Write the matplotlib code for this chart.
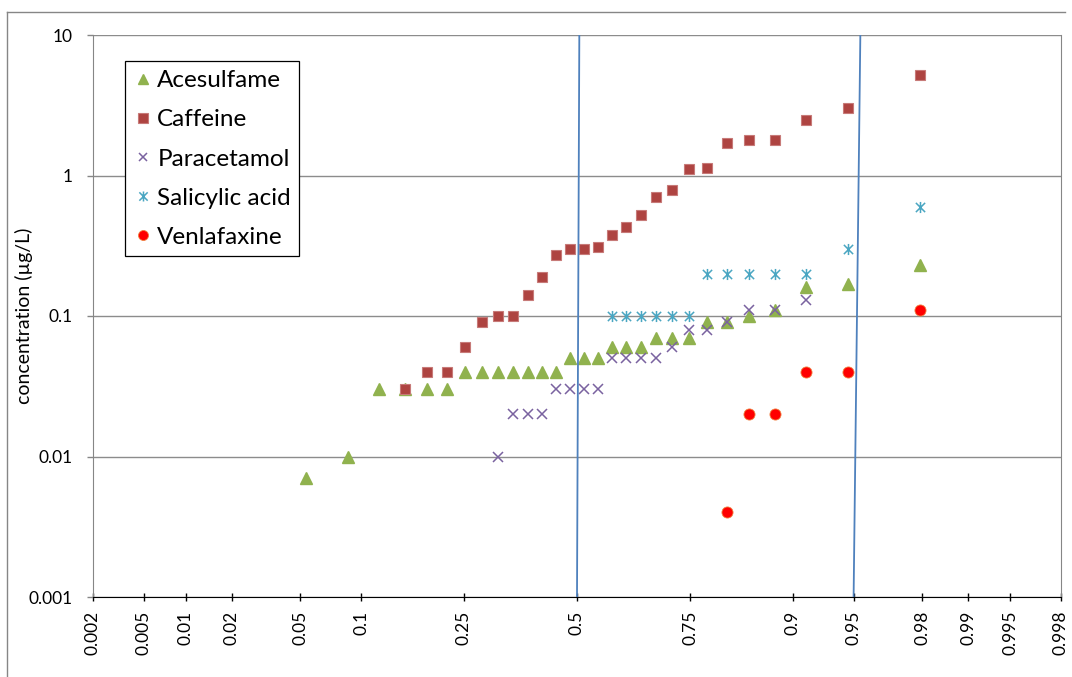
"""Probability plot of pharmaceutical concentrations (normal probability x-axis)."""
from statistics import NormalDist

import matplotlib
matplotlib.use("Agg")
import matplotlib.pyplot as plt
import numpy as np
from matplotlib.lines import Line2D
from matplotlib.path import Path

plt.rcParams["font.family"] = ["Lato", "DejaVu Sans"]

# plotting positions (Blom, n = 30) for rank 1..30
plot_pos = [0.0207, 0.0537, 0.0868, 0.1198, 0.1529, 0.1860, 0.2190, 0.2521,
            0.2851, 0.3182, 0.3512, 0.3843, 0.4174, 0.4504, 0.4835, 0.5165,
            0.5496, 0.5826, 0.6157, 0.6488, 0.6818, 0.7149, 0.7479, 0.7810,
            0.8140, 0.8471, 0.8802, 0.9132, 0.9463, 0.9793]

# concentrations (ug/L), each series starts at the given rank
acesulfame_start = 2
acesulfame = [0.007, 0.01, 0.03, 0.03, 0.03, 0.03, 0.04, 0.04, 0.04, 0.04,
              0.04, 0.04, 0.04, 0.05, 0.05, 0.05, 0.06, 0.06, 0.06, 0.07,
              0.07, 0.07, 0.09, 0.09, 0.10, 0.11, 0.16, 0.17, 0.23]
caffeine_start = 5
caffeine = [0.03, 0.04, 0.04, 0.06, 0.09, 0.10, 0.10, 0.14, 0.19, 0.27,
            0.30, 0.30, 0.31, 0.38, 0.43, 0.52, 0.70, 0.79, 1.12, 1.13,
            1.70, 1.80, 1.80, 2.50, 3.00, 5.20]
paracetamol_start = 10
paracetamol = [0.01, 0.02, 0.02, 0.02, 0.03, 0.03, 0.03, 0.03, 0.05, 0.05,
               0.05, 0.05, 0.06, 0.08, 0.08, 0.09, 0.11, 0.11, 0.13]
salicylic_start = 18
salicylic = [0.1, 0.1, 0.1, 0.1, 0.1, 0.1, 0.2, 0.2, 0.2, 0.2, 0.2, 0.3, 0.6]
venlafaxine_start = 25
venlafaxine = [0.004, 0.02, 0.02, 0.04, 0.04, 0.11]

# hand drawn guide lines (probability at bottom, probability at top)
guide_lines = [(0.5, 0.5055), (0.95, 0.954)]

x_ticks = [0.002, 0.005, 0.01, 0.02, 0.05, 0.1, 0.25, 0.5, 0.75, 0.9, 0.95,
           0.98, 0.99, 0.995, 0.998]
x_ticklabels = ["0.002", "0.005", "0.01", "0.02", "0.05", "0.1", "0.25", "0.5",
                "0.75", "0.9", "0.95", "0.98", "0.99", "0.995", "0.998"]
y_ticks = [0.001, 0.01, 0.1, 1, 10]
y_ticklabels = ["0.001", "0.01", "0.1", "1", "10"]

ND = NormalDist()
_inv = np.vectorize(ND.inv_cdf, otypes=[float])
_cdf = np.vectorize(ND.cdf, otypes=[float])


def probit(p):
    p = np.clip(np.asarray(p, dtype=float), 1e-9, 1 - 1e-9)
    return _inv(p)


def norm_cdf(z):
    return _cdf(np.asarray(z, dtype=float))


def xs(start, values):
    return plot_pos[start - 1:start - 1 + len(values)]


# Excel style "star" marker: x with a vertical bar
star = Path([(-1, -1), (1, 1), (-1, 1), (1, -1), (0, -1.2), (0, 1.2)],
            [Path.MOVETO, Path.LINETO, Path.MOVETO, Path.LINETO,
             Path.MOVETO, Path.LINETO])

W, H = 1072, 677
fig = plt.figure(figsize=(W / 100, H / 100), dpi=100)
ax = fig.add_axes([93 / W, (H - 597) / H, (1061 - 93) / W, (597 - 35) / H])
ax.set_xscale("function", functions=(probit, norm_cdf))
ax.set_yscale("log")

ax.plot(xs(acesulfame_start, acesulfame), acesulfame, ls="none", marker="^",
        ms=8.3, mfc="#90B24E", mec="#90B24E", label="Acesulfame", zorder=3)
ax.plot(xs(caffeine_start, caffeine), caffeine, ls="none", marker="s",
        ms=7.8, mfc="#AE4441", mec="#C77A78", mew=0.8, label="Caffeine",
        zorder=3)
ax.plot(xs(paracetamol_start, paracetamol), paracetamol, ls="none", marker="x",
        ms=7, mec="#7A62A0", mew=1.1, label="Paracetamol", zorder=3)
ax.plot(xs(salicylic_start, salicylic), salicylic, ls="none", marker=star,
        ms=8, mec="#4AA6C2", mfc="none", mew=1.1, label="Salicylic acid",
        zorder=3)
ax.plot(xs(venlafaxine_start, venlafaxine), venlafaxine, ls="none", marker="o",
        ms=8, mfc="#FF0000", mec="#F08040", mew=0.6, label="Venlafaxine",
        zorder=3)

for p_bot, p_top in guide_lines:
    ax.plot([p_bot, p_top], [0.001, 10], color="#4F81BD", lw=1.3, zorder=4)

ax.set_xlim(0.002, 0.998)
ax.set_ylim(0.001, 10)

ax.set_xticks(x_ticks)
ax.set_xticklabels(x_ticklabels, rotation=90, fontsize=12.5)
ax.xaxis.set_minor_locator(matplotlib.ticker.NullLocator())
ax.set_yticks(y_ticks)
ax.set_yticklabels(y_ticklabels, fontsize=12.5)
ax.yaxis.set_minor_locator(matplotlib.ticker.NullLocator())

ax.tick_params(axis="x", direction="inout", length=6, width=1, color="black",
               pad=7)
ax.tick_params(axis="y", direction="out", length=4.5, width=1,
               color="#868686", pad=10)
ax.grid(axis="y", color="#8C8C8C", lw=1)
ax.set_axisbelow(True)

ax.spines["top"].set_visible(False)
ax.spines["right"].set_color("#868686")
ax.spines["left"].set_color("#868686")
ax.spines["bottom"].set_color("black")

ax.set_ylabel("concentration (µg/L)", fontsize=14)
ax.yaxis.set_label_coords(-0.062, 0.5)

leg = ax.legend(loc="upper left", bbox_to_anchor=(124.5 / W, (H - 61.5) / H),
                bbox_transform=fig.transFigure, fontsize=17.5, frameon=True,
                fancybox=False, edgecolor="black", framealpha=1,
                handlelength=0.8, handletextpad=0.2, labelspacing=0.75,
                borderpad=0.35, borderaxespad=0, markerscale=0.9)
leg.get_frame().set_linewidth(0.9)

# outer chart border
border = dict(transform=fig.transFigure, color="#868686", lw=1)
fig.add_artist(Line2D([7 / W, 7 / W], [0, (H - 12) / H], **border))
fig.add_artist(Line2D([7 / W, 1065 / W], [(H - 12) / H, (H - 12) / H], **border))

fig.savefig("out.png", dpi=100)
